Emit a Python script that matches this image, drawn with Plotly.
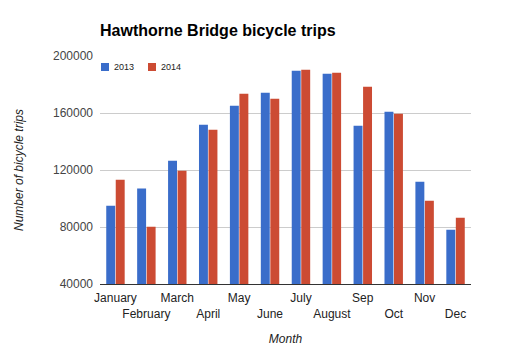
import plotly.graph_objects as go

months = ["January", "February", "March", "April", "May", "June",
          "July", "August", "Sep", "Oct", "Nov", "Dec"]
trips_2013 = [95000, 107000, 126500, 151800, 165100, 174200,
              189700, 187600, 151100, 160900, 111800, 78100]
trips_2014 = [113200, 80200, 119500, 148300, 173500, 170000,
              190400, 188300, 178500, 159500, 98500, 86500]
y_ticks = [40000, 80000, 120000, 160000, 200000]
series_names = ["2013", "2014"]
series_colors = ["#3a6dca", "#cc4b33"]

tick_text = [m if i % 2 == 0 else "<br>" + m for i, m in enumerate(months)]

fig = go.Figure()
for name, vals, col in zip(series_names, [trips_2013, trips_2014], series_colors):
    fig.add_trace(go.Bar(name=name, x=months, y=vals, marker_color=col,
                         marker_line_width=0))

# compact legend drawn as paper-positioned squares + labels
W, H = 506, 354
legend_x = [101, 148]
for name, col, lx in zip(series_names, series_colors, legend_x):
    fig.add_shape(type="rect", xref="paper", yref="paper",
                  x0=(lx - 100) / 371, x1=(lx + 8 - 100) / 371,
                  y0=(284 - 71) / 228, y1=(284 - 63) / 228,
                  fillcolor=col, line_width=0)
    fig.add_annotation(text=name, xref="paper", yref="paper",
                       x=(lx + 11 - 100) / 371, y=(284 - 67) / 228,
                       xanchor="left", yanchor="middle", showarrow=False,
                       font=dict(size=9, color="#222"))

fig.update_layout(
    width=W, height=H,
    margin=dict(l=100, r=35, t=56, b=70),
    paper_bgcolor="white", plot_bgcolor="white",
    font=dict(family="Liberation Sans, Arial, sans-serif", color="#222"),
    title=dict(text="<b>Hawthorne Bridge bicycle trips</b>",
               x=100/506, xanchor="left", y=1-30/354, yanchor="middle",
               font=dict(size=16, color="#000")),
    barmode="group", bargap=0.385, bargroupgap=0.06,
    showlegend=False,
    xaxis=dict(tickmode="array", tickvals=months, ticktext=tick_text,
               tickangle=0, tickfont=dict(size=12, color="#222"),
               showline=True, linecolor="#333", linewidth=1,
               showgrid=False, ticks="", ticklabelstandoff=3,
               title=dict(text="<i>Month</i>", font=dict(size=12, color="#222"),
                          standoff=14)),
    yaxis=dict(range=[40000, 200000], tickvals=y_ticks,
               tickformat="d", tickfont=dict(size=12, color="#444"),
               showgrid=True, gridcolor="#cccccc", gridwidth=1,
               zeroline=False, ticks="", ticklabelstandoff=6,
               title=dict(text="<i>Number of bicycle trips</i>",
                          font=dict(size=12, color="#222"), standoff=26)),
)

fig.write_html("out.html")
